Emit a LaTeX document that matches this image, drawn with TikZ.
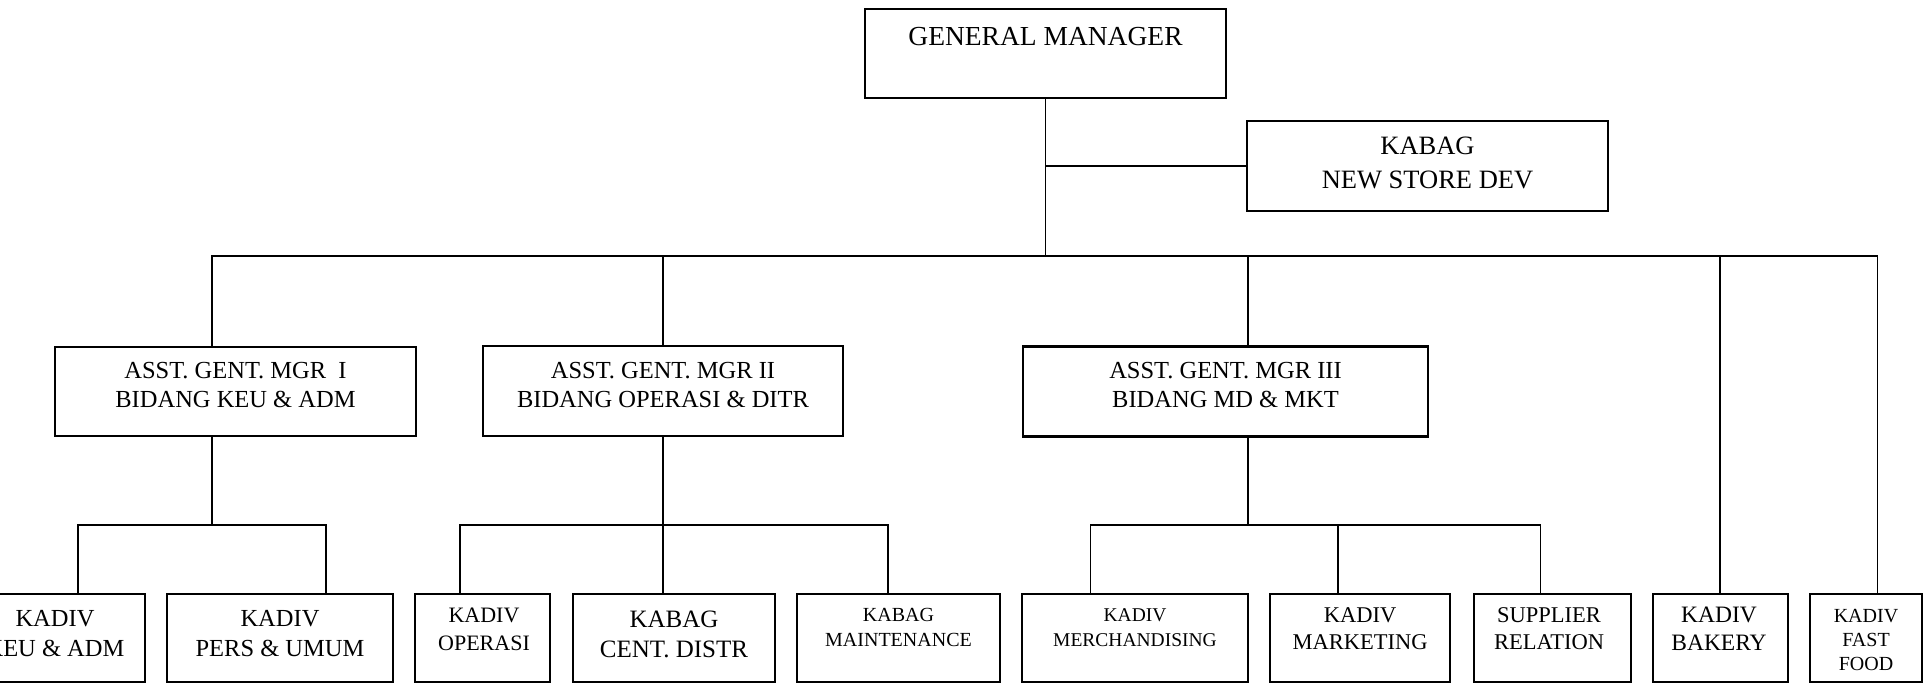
\documentclass[tikz,border=0pt]{standalone}
\usepackage{fontspec}
\setmainfont{Liberation Serif}
\newcommand\myfs[2]{\fontsize{#1}{#2}\selectfont}
\tikzset{
  box/.style={draw, line width=2.2pt, inner sep=0pt, outer sep=0pt, rectangle},
  txt/.style={inner sep=0pt, outer sep=0pt, align=center},
  conn/.style={line width=1.7pt, line cap=rect},
}
\begin{document}
\begin{tikzpicture}[x=1pt, y=-1pt]
\useasboundingbox (0,0) rectangle (1924,684);
% boxes
\node[box, minimum width=361pt, minimum height=89pt] (gm)   at (1045.5,53.5) {};
\node[box, minimum width=361pt, minimum height=90pt] (nsd)  at (1427.5,166) {};
\node[box, minimum width=361pt, minimum height=89pt] (agm1) at (235.5,391.5) {};
\node[box, minimum width=360pt, minimum height=90pt] (agm2) at (663,391) {};
\node[box, minimum width=405pt, minimum height=90pt] (agm3) at (1225.5,391.5) {};
\node[box, minimum width=180pt, minimum height=88pt] (keu)  at (55,638) {};
\node[box, minimum width=226pt, minimum height=88pt] (pers) at (280,638) {};
\node[box, minimum width=135pt, minimum height=88pt] (ops)  at (482.5,638) {};
\node[box, minimum width=202pt, minimum height=88pt] (cd)   at (674,638) {};
\node[box, minimum width=203pt, minimum height=88pt] (mnt)  at (898.5,638) {};
\node[box, minimum width=226pt, minimum height=88pt] (mer)  at (1135,638) {};
\node[box, minimum width=180pt, minimum height=88pt] (mkt)  at (1360,638) {};
\node[box, minimum width=157pt, minimum height=88pt] (sup)  at (1552.5,638) {};
\node[box, minimum width=135pt, minimum height=88pt] (bak)  at (1720.5,638) {};
\node[box, minimum width=112pt, minimum height=88pt] (ff)   at (1866,638) {};
% texts
\node[txt, font=\myfs{27.5}{33}] (gmt) at (1045.5,36.5) {GENERAL MANAGER};
\node[txt, font=\myfs{26.5}{34}] (nsdt) at (1427.5,163) {KABAG\\NEW STORE DEV};
\node[txt, font=\myfs{24.5}{29}] (agm1t) at (235.5,385.5) {ASST. GENT. MGR~~I\\BIDANG KEU \& ADM};
\node[txt, font=\myfs{24.5}{29}] (agm2t) at (663,385.5) {ASST. GENT. MGR II\\BIDANG OPERASI \& DITR};
\node[txt, font=\myfs{24.5}{29}] (agm3t) at (1225.5,385.5) {ASST. GENT. MGR III\\BIDANG MD \& MKT};
\node[txt, font=\myfs{24.5}{30}] (keut) at (55,634) {KADIV\\KEU \& ADM};
\node[txt, font=\myfs{24.5}{30}] (perst) at (280,634) {KADIV\\PERS \& UMUM};
\node[txt, font=\myfs{22}{28}] (opst) at (484,629) {KADIV\\OPERASI};
\node[txt, font=\myfs{25}{30}] (cdt) at (674,634) {KABAG\\CENT. DISTR};
\node[txt, font=\myfs{20}{25}] (mntt) at (898.5,627.5) {KABAG\\MAINTENANCE};
\node[txt, font=\myfs{19.5}{25}] (mert) at (1135,627.5) {KADIV\\MERCHANDISING};
\node[txt, font=\myfs{22.5}{27}] (mktt) at (1360,629) {KADIV\\MARKETING};
\node[txt, font=\myfs{22.5}{27}] (supt) at (1549,629) {SUPPLIER\\RELATION};
\node[txt, font=\myfs{23.5}{28}] (bakt) at (1719,629) {KADIV\\BAKERY};
\node[txt, font=\myfs{20}{24}] (fft) at (1866,639.5) {KADIV\\FAST\\FOOD};
% junction points
\coordinate (j1) at (212,256);
\coordinate (j2) at (663,256);
\coordinate (j3) at (1248,256);
\coordinate (j4) at (1720,256);
\coordinate (j5) at (1877.5,256);
\coordinate (s1) at (212,525);
\coordinate (s1l) at (77.7,525);
\coordinate (s1r) at (325.7,525);
\coordinate (s2) at (663,525);
\coordinate (s2l) at (460,525);
\coordinate (s2r) at (888,525);
\coordinate (s3) at (1248,525);
\coordinate (s3l) at (1090.5,525);
\coordinate (s3m) at (1338,525);
\coordinate (s3r) at (1540.5,525);
% connectors
\draw[conn] (gm.south) -- (gm.south |- j1);
\draw[conn] (gm.south |- nsd.west) -- (nsd.west);
\draw[conn] (j1) -- (j5);
\draw[conn] (j1) -- (j1 |- agm1.north);
\draw[conn] (j2) -- (j2 |- agm2.north);
\draw[conn] (j3) -- (j3 |- agm3.north);
\draw[conn] (j4) -- (j4 |- bak.north);
\draw[conn] (j5) -- (j5 |- ff.north);
\draw[conn] (s1 |- agm1.south) -- (s1);
\draw[conn] (s1l) -- (s1r);
\draw[conn] (s1l) -- (s1l |- keu.north);
\draw[conn] (s1r) -- (s1r |- pers.north);
\draw[conn] (s2 |- agm2.south) -- (s2);
\draw[conn] (s2l) -- (s2r);
\draw[conn] (s2l) -- (s2l |- ops.north);
\draw[conn] (s2) -- (s2 |- cd.north);
\draw[conn] (s2r) -- (s2r |- mnt.north);
\draw[conn] (s3 |- agm3.south) -- (s3);
\draw[conn] (s3l) -- (s3r);
\draw[conn] (s3l) -- (s3l |- mer.north);
\draw[conn] (s3m) -- (s3m |- mkt.north);
\draw[conn] (s3r) -- (s3r |- sup.north);
\end{tikzpicture}
\end{document}
